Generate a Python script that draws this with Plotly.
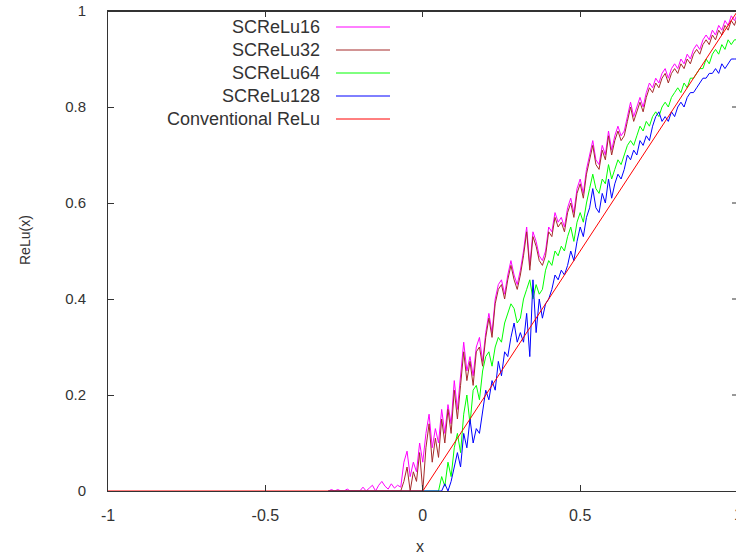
import plotly.graph_objects as go

# ---------------- data ----------------
X_GRID = [round(-0.30 + 0.01 * i, 2) for i in range(131)]  # -0.30 .. 1.00

SCRELU16 = [
    0, 0.003, 0, 0.003, 0, 0, 0.004, 0, 0, 0,
    0, 0.008, 0, 0.006, 0.012, 0, 0.012, 0.02, 0.01, 0.004,
    0.015, 0.006, 0.012, 0.008, 0.06, 0.083, 0.03, 0.06, 0.04, 0.10,
    0.06, 0.12, 0.16, 0.09, 0.13, 0.10, 0.17, 0.12, 0.18, 0.14,
    0.23, 0.17, 0.24, 0.31, 0.25, 0.28, 0.24, 0.30, 0.32, 0.27,
    0.33, 0.37, 0.33, 0.40, 0.43, 0.44, 0.41, 0.45, 0.48, 0.45,
    0.43, 0.46, 0.50, 0.55, 0.47, 0.54, 0.52, 0.49, 0.48, 0.50,
    0.55, 0.54, 0.58, 0.56, 0.57, 0.55, 0.59, 0.61, 0.58, 0.63,
    0.65, 0.62, 0.67, 0.70, 0.73, 0.69, 0.68, 0.72, 0.70, 0.75,
    0.71, 0.74, 0.76, 0.74, 0.75, 0.78, 0.81, 0.78, 0.80, 0.82,
    0.80, 0.83, 0.85, 0.84, 0.86, 0.85, 0.87, 0.88, 0.86, 0.88,
    0.89, 0.88, 0.90, 0.89, 0.91, 0.90, 0.92, 0.93, 0.92, 0.94,
    0.95, 0.94, 0.96, 0.95, 0.97, 0.96, 0.98, 0.97, 0.99, 0.98,
    0.995,
]

SCRELU32 = [
    0, 0, 0, 0, 0, 0, 0, 0, 0, 0,
    0, 0, 0, 0, 0, 0, 0, 0, 0, 0,
    0, 0, 0, 0, 0.02, 0.05, 0, 0.04, 0.02, 0.08,
    0.0, 0.09, 0.14, 0.06, 0.11, 0.07, 0.15, 0.10, 0.17, 0.12,
    0.21, 0.15, 0.22, 0.29, 0.23, 0.27, 0.22, 0.29, 0.30, 0.26,
    0.32, 0.36, 0.32, 0.39, 0.42, 0.43, 0.40, 0.44, 0.47, 0.44,
    0.42, 0.45, 0.49, 0.54, 0.46, 0.53, 0.51, 0.48, 0.47, 0.49,
    0.54, 0.53, 0.57, 0.55, 0.56, 0.54, 0.58, 0.60, 0.57, 0.62,
    0.64, 0.61, 0.66, 0.69, 0.72, 0.68, 0.67, 0.71, 0.69, 0.74,
    0.70, 0.73, 0.75, 0.73, 0.74, 0.77, 0.80, 0.77, 0.79, 0.81,
    0.79, 0.82, 0.84, 0.83, 0.85, 0.84, 0.86, 0.87, 0.85, 0.87,
    0.88, 0.87, 0.89, 0.88, 0.90, 0.89, 0.91, 0.92, 0.91, 0.93,
    0.94, 0.93, 0.95, 0.94, 0.96, 0.95, 0.97, 0.96, 0.98, 0.97,
    0.99,
]

SCRELU64 = [
    0, 0, 0, 0, 0, 0, 0, 0, 0, 0,
    0, 0, 0, 0, 0, 0, 0, 0, 0, 0,
    0, 0, 0, 0, 0, 0, 0, 0, 0, 0,
    0, 0, 0, 0, 0, 0, 0.03, 0.01, 0.06, 0.03,
    0.09, 0.12, 0.08, 0.16, 0.20, 0.14, 0.21, 0.22, 0.19, 0.25,
    0.28, 0.29, 0.26, 0.30, 0.32, 0.31, 0.35, 0.37, 0.39, 0.38,
    0.35, 0.36, 0.40, 0.42, 0.44, 0.40, 0.43, 0.41, 0.42, 0.46,
    0.48, 0.47, 0.50, 0.49, 0.51, 0.50, 0.53, 0.55, 0.52, 0.56,
    0.58, 0.56, 0.60, 0.63, 0.66, 0.63, 0.62, 0.65, 0.64, 0.68,
    0.65, 0.67, 0.69, 0.68, 0.70, 0.72, 0.73, 0.72, 0.74, 0.76,
    0.75, 0.77, 0.76, 0.78, 0.79, 0.78, 0.80, 0.81, 0.80, 0.82,
    0.83, 0.84, 0.83, 0.85, 0.84, 0.86, 0.86, 0.87, 0.88, 0.88,
    0.90, 0.89, 0.91, 0.92, 0.91, 0.93, 0.92, 0.94, 0.93, 0.94,
    0.94,
]

SCRELU128 = [
    0, 0, 0, 0, 0, 0, 0, 0, 0, 0,
    0, 0, 0, 0, 0, 0, 0, 0, 0, 0,
    0, 0, 0, 0, 0, 0, 0, 0, 0, 0,
    0, 0, 0, 0, 0, 0, 0, 0.015, 0.0, 0.02,
    0.05, 0.08, 0.05, 0.12, 0.09, 0.15, 0.10, 0.13, 0.12, 0.17,
    0.21, 0.19, 0.23, 0.21, 0.27, 0.24, 0.29, 0.28, 0.32, 0.35,
    0.31, 0.33, 0.31, 0.37, 0.28, 0.44, 0.33, 0.40, 0.36, 0.39,
    0.40, 0.42, 0.45, 0.44, 0.46, 0.45, 0.47, 0.50, 0.48, 0.52,
    0.55, 0.53, 0.57, 0.59, 0.63, 0.59, 0.58, 0.62, 0.60, 0.65,
    0.61, 0.64, 0.66, 0.65, 0.67, 0.70, 0.69, 0.71, 0.70, 0.73,
    0.72, 0.74, 0.73, 0.76, 0.78, 0.79, 0.77, 0.78, 0.77, 0.79,
    0.78, 0.80, 0.81, 0.80, 0.82, 0.83, 0.83, 0.84, 0.85, 0.86,
    0.86, 0.87, 0.87, 0.88, 0.87, 0.89, 0.88, 0.89, 0.90, 0.90,
    0.90,
]

RELU_X = [-1.0, 0.0, 1.0]
RELU_Y = [0.0, 0.0, 1.0]

SERIES_NAMES = ["SCReLu16", "SCReLu32", "SCReLu64", "SCReLu128", "Conventional ReLu"]
SERIES_COLORS = ["#ff00ff", "#a52a2a", "#00ff00", "#0000ff", "#ff0000"]

X_TICKS = [-1, -0.5, 0, 0.5, 1]
X_TICK_TEXT = ["-1", "-0.5", "0", "0.5", "1"]
Y_TICKS = [0, 0.2, 0.4, 0.6, 0.8, 1]
Y_TICK_TEXT = ["0", "0.2", "0.4", "0.6", "0.8", "1"]

# ---------------- figure ----------------
W, H = 736, 560
L, R, T, B = 108, 0, 11, 69
PW = W - L - R
PH = H - T - B
X_END = 0.995   # frame's right edge (x = 1) lies just outside the window

FONT = "Liberation Sans, Arial, sans-serif"
TXT = "#333333"
AX = "#333333"

fig = go.Figure()
ys = [SCRELU16, SCRELU32, SCRELU64, SCRELU128]
for name, col, yv in zip(SERIES_NAMES[:4], SERIES_COLORS[:4], ys):
    fig.add_trace(go.Scatter(x=X_GRID, y=yv, mode="lines", name=name,
                             line=dict(color=col, width=1), showlegend=False))
fig.add_trace(go.Scatter(x=RELU_X, y=RELU_Y, mode="lines", name=SERIES_NAMES[4],
                         line=dict(color=SERIES_COLORS[4], width=1), showlegend=False))

def px_x(p):
    return (p - L) / PW

def px_y(p):
    return (H - B - p) / PH

# top border of the frame (slightly inside so it is never clipped)
fig.add_shape(type="line", xref="paper", yref="paper", x0=0, x1=1,
              y0=1 - 0.5 / PH, y1=1 - 0.5 / PH,
              line=dict(color=AX, width=1), layer="above")
# inward ticks of the right border (the border itself lies just outside the window)
for yt in Y_TICKS[1:-1]:
    fig.add_shape(type="line", xref="paper", yref="y", x0=px_x(732), x1=1,
                  y0=yt, y1=yt, line=dict(color=AX, width=1), layer="above")

# legend (gnuplot style: text right-aligned, sample to the right)
legend_y = [27, 50, 73, 96, 119]
for name, col, py in zip(SERIES_NAMES, SERIES_COLORS, legend_y):
    fig.add_annotation(x=px_x(322), y=px_y(py), xref="paper", yref="paper",
                       text=name, showarrow=False, xanchor="right", yanchor="middle",
                       font=dict(family=FONT, size=18, color=TXT))
    fig.add_shape(type="line", xref="paper", yref="paper",
                  x0=px_x(336), x1=px_x(390), y0=px_y(py), y1=px_y(py),
                  line=dict(color=col, width=1))

# axis titles
fig.add_annotation(x=px_x(420), y=px_y(546), xref="paper", yref="paper", text="x",
                   showarrow=False, xanchor="center", yanchor="middle",
                   font=dict(family=FONT, size=16, color=TXT))
fig.add_annotation(x=px_x(25), y=px_y(240), xref="paper", yref="paper", text="ReLu(x)",
                   showarrow=False, xanchor="center", yanchor="middle", textangle=-90,
                   font=dict(family=FONT, size=14, color=TXT))
# the partially visible "1" tick label at the far right
fig.add_annotation(x=px_x(738.5), y=px_y(514), xref="paper", yref="paper",
                   text=X_TICK_TEXT[-1], showarrow=False, xanchor="center", yanchor="middle",
                   font=dict(family=FONT, size=16, color=TXT))

fig.update_layout(
    width=W, height=H,
    margin=dict(l=L, r=R, t=T, b=B, pad=0, autoexpand=False),
    paper_bgcolor="white", plot_bgcolor="white",
    xaxis=dict(range=[-1, X_END], tickvals=X_TICKS, ticktext=X_TICK_TEXT,
               automargin=False,
               showgrid=False, zeroline=False, showline=True, linecolor=AX,
               linewidth=1, mirror="ticks", ticks="inside", ticklen=6,
               tickcolor=AX, tickwidth=1, ticklabelstandoff=10,
               tickfont=dict(family=FONT, size=16, color=TXT)),
    yaxis=dict(range=[0, 1], tickvals=Y_TICKS, ticktext=Y_TICK_TEXT,
               automargin=False,
               showgrid=False, zeroline=False, showline=True, linecolor=AX,
               linewidth=1, mirror=False, ticks="inside", ticklen=6,
               tickcolor=AX, tickwidth=1, ticklabelstandoff=18,
               ticklabeloverflow="allow",
               tickfont=dict(family=FONT, size=15, color=TXT)),
)

# remove the browser's default 8px body margin so the figure fills the window
fig.write_html("out.html", config={"displayModeBar": False},
               post_script="document.body.style.margin='0px';document.body.style.overflow='hidden';")
